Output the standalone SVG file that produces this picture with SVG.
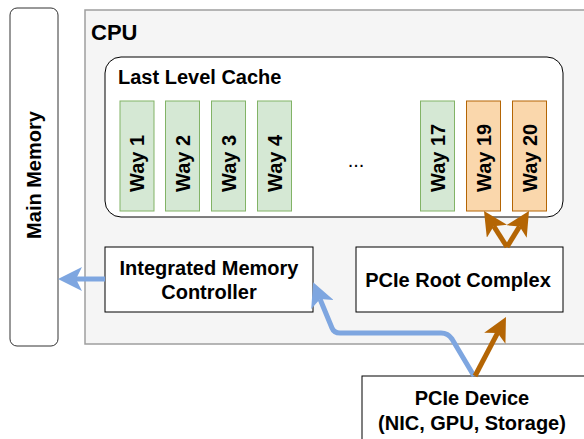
<svg xmlns="http://www.w3.org/2000/svg" width="584" height="439" viewBox="0 0 584 439">
<style>
text{font-family:"Liberation Sans",Arial,sans-serif;font-weight:bold;fill:#000;}
.lbl{font-size:20px;text-anchor:middle;}
.way{font-size:20px;text-anchor:start;}
.box{fill:#fff;stroke:#000;stroke-width:1;}
.green{fill:#d5e8d4;stroke:#82b366;stroke-width:1;}
.orange{fill:#fad7ac;stroke:#b46504;stroke-width:1;}
.blue-line{fill:none;stroke:#7ea6e0;stroke-width:5;stroke-linejoin:round;}
.orange-line{fill:none;stroke:#b46504;stroke-width:5;stroke-linejoin:round;}
</style>
<defs>
<marker id="ab" markerUnits="userSpaceOnUse" viewBox="0 0 24 24" markerWidth="24" markerHeight="24" refX="6" refY="12" orient="auto">
<path d="M0,0 L24,12 L0,24 L6,12 Z" fill="#7ea6e0"/>
</marker>
<marker id="ao" markerUnits="userSpaceOnUse" viewBox="0 0 24 24" markerWidth="24" markerHeight="24" refX="6" refY="12" orient="auto">
<path d="M0,0 L24,12 L0,24 L6,12 Z" fill="#b46504"/>
</marker>
</defs>

<g id="main-memory">
<rect x="10" y="8" width="48" height="338" rx="7" fill="#fff" stroke="#333" stroke-width="1"/>
<text class="lbl" transform="translate(41,175) rotate(-90)">Main Memory</text>
</g>

<g id="cpu">
<rect x="85" y="10" width="520" height="334" fill="#f5f5f5" stroke="#9e9e9e" stroke-width="1.5"/>
<text x="91" y="40" style="font-size:22px">CPU</text>
</g>

<g id="llc">
<rect x="105" y="57" width="458" height="160" rx="16" fill="#fff" stroke="#000" stroke-width="1"/>
<text x="118" y="84" style="font-size:20px">Last Level Cache</text>
</g>

<g id="way1"><rect class="green" x="120" y="101" width="34" height="110"/><text class="way" transform="translate(144,192) rotate(-90)">Way 1</text></g>
<g id="way2"><rect class="green" x="165.5" y="101" width="34" height="110"/><text class="way" transform="translate(189.5,192) rotate(-90)">Way 2</text></g>
<g id="way3"><rect class="green" x="211.5" y="101" width="34" height="110"/><text class="way" transform="translate(235.5,192) rotate(-90)">Way 3</text></g>
<g id="way4"><rect class="green" x="257.5" y="101" width="34" height="110"/><text class="way" transform="translate(281.5,192) rotate(-90)">Way 4</text></g>
<g id="ellipsis"><text x="356" y="167" style="font-size:20px;font-weight:normal;text-anchor:middle">...</text></g>
<g id="way17"><rect class="green" x="420.5" y="101" width="34" height="110"/><text class="way" transform="translate(444.5,192) rotate(-90)">Way 17</text></g>
<g id="way19"><rect class="orange" x="466.5" y="101" width="34" height="110"/><text class="way" transform="translate(490.5,192) rotate(-90)">Way 19</text></g>
<g id="way20"><rect class="orange" x="512.5" y="101" width="34" height="110"/><text class="way" transform="translate(536.5,192) rotate(-90)">Way 20</text></g>

<g id="imc">
<rect class="box" x="105" y="247" width="208" height="65"/>
<text class="lbl" x="209" y="274.5">Integrated Memory</text>
<text class="lbl" x="209" y="299">Controller</text>
</g>

<g id="pcie-root">
<rect class="box" x="356" y="247" width="207" height="65"/>
<text class="lbl" x="458" y="287">PCIe Root Complex</text>
</g>

<g id="pcie-device">
<rect class="box" x="362" y="376" width="240" height="80"/>
<text class="lbl" x="472" y="405">PCIe Device</text>
<text class="lbl" x="472" y="430">(NIC, GPU, Storage)</text>
</g>

<g id="connectors">
<path class="blue-line" d="M105,279 L76,279" marker-end="url(#ab)"/>
<path class="blue-line" d="M474,376 L452,339 Q448,333 441,333 L340,333 Q334,333 332,328 L320,299" marker-end="url(#ab)"/>
<path class="orange-line" d="M475,376 L497.6,332.9" marker-end="url(#ao)"/>
<path class="orange-line" d="M507,247 L493.7,226.2" marker-end="url(#ao)"/>
<path class="orange-line" d="M507,247 L519.6,226.4" marker-end="url(#ao)"/>
</g>
</svg>
